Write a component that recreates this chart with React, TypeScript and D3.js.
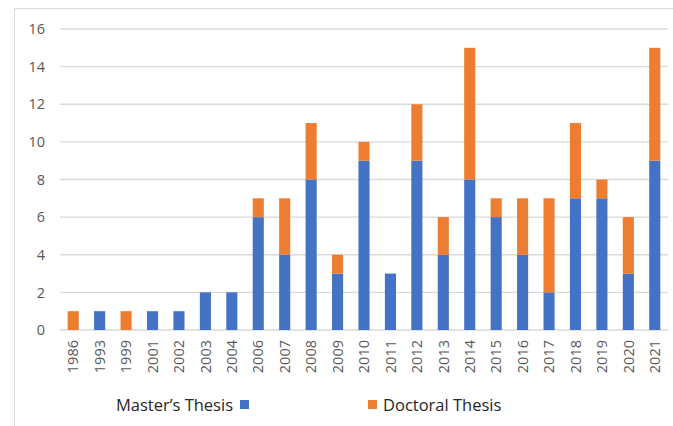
import React from "react";
import * as d3 from "d3";

const years = ["1986","1993","1999","2001","2002","2003","2004","2006","2007","2008","2009","2010","2011","2012","2013","2014","2015","2016","2017","2018","2019","2020","2021"];
const masters = [0,1,0,1,1,2,2,6,4,8,3,9,3,9,4,8,6,4,2,7,7,3,9];
const doctoral = [1,0,1,0,0,0,0,1,3,3,1,1,0,3,2,7,1,3,5,4,1,3,6];
const yTicks = [0,2,4,6,8,10,12,14,16];
const seriesNames = ["Master\u2019s Thesis", "Doctoral Thesis"];
const colors = ["#4472C4", "#ED7D31"];

const W = 673, H = 426;
const left = 60, right = 668, top = 29, bottom = 330;

export default function App() {
  const x = d3.scaleBand<string>().domain(years).range([left, right]).paddingInner(0.58).paddingOuter(0.29);
  const y = d3.scaleLinear().domain([0, 16]).range([bottom, top]);
  const data = years.map((yr, i) => ({ yr, m: masters[i], d: doctoral[i] }));
  const stack = d3.stack<any>().keys(["m", "d"])(data);
  const font = "'Open Sans', 'Noto Sans', sans-serif";
  return (
    <svg width={W} height={H} style={{ position: "absolute", left: 0, top: 0, background: "#fff" }} fontFamily={font}>
      <rect x={14.5} y={8.5} width={W} height={H} fill="none" stroke="#D9D9D9" />
      {yTicks.map((t) => (
        <g key={t}>
          <line x1={left} x2={right} y1={y(t)} y2={y(t)} stroke="#D9D9D9" strokeWidth={1.3} />
          <text x={45} y={y(t)} dy="0.36em" textAnchor="end" fontSize={14.5} fill="#595959">{t}</text>
        </g>
      ))}
      {stack.map((s, si) => (
        <g key={si} fill={colors[si]}>
          {s.map((p, i) => (
            p[1] - p[0] > 0 ? (
              <rect key={i} x={x(years[i])} width={x.bandwidth()} y={y(p[1])} height={y(p[0]) - y(p[1])} />
            ) : null
          ))}
        </g>
      ))}
      {years.map((yr) => {
        const cx = (x(yr) as number) + x.bandwidth() / 2;
        return (
          <text key={yr} transform={`translate(${cx},${340}) rotate(-90)`} textAnchor="end" dy="0.36em" fontSize={14.5} fill="#595959">{yr}</text>
        );
      })}
      <text x={233} y={405} dy="0.36em" textAnchor="end" fontSize={16.5} fill="#262626">{seriesNames[0]}</text>
      <rect x={240} y={400} width={9} height={9} fill={colors[0]} />
      <rect x={368} y={400} width={9} height={9} fill={colors[1]} />
      <text x={383} y={405} dy="0.36em" fontSize={16.5} fill="#262626">{seriesNames[1]}</text>
    </svg>
  );
}
